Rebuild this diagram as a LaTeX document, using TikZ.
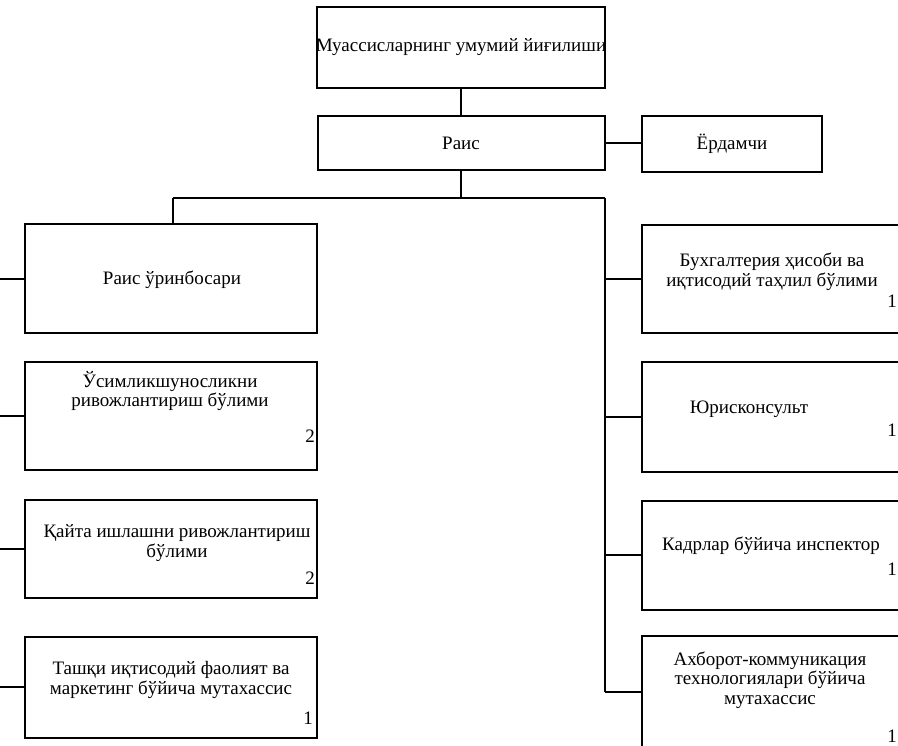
\documentclass[tikz,border=0pt]{standalone}
\usepackage{fontspec}
\setmainfont{Liberation Serif}
\usepackage{tikz}
\usetikzlibrary{calc}
\tikzset{
  box/.style={draw=black, line width=2pt, inner sep=0pt},
  line/.style={draw=black, line width=1.8pt},
  lab/.style={font=\fontsize{19}{19.5}\selectfont, align=center, inner sep=0pt},
  num/.style={font=\fontsize{19}{19}\selectfont, inner sep=0pt, anchor=east},
}

\begin{document}
\begin{tikzpicture}[x=1pt,y=-1pt]
  \clip (0,0) rectangle (898,746);
  \fill[white] (0,0) rectangle (898,746);
  % top of the chart
  \node[box, minimum width=288pt, minimum height=81pt] (meet) at (461,47.5) {};
  \node[lab] (meett) at (461,47) {Муассисларнинг умумий йиғилиши};
  \node[box, minimum width=287pt, minimum height=54pt] (rais) at (461,143) {};
  \node[lab] (raist) at (461,143) {Раис};
  \node[box, minimum width=180pt, minimum height=56pt] (help) at (732,144) {};
  \node[lab] (helpt) at (732,144) {Ёрдамчи};
  % left column
  \node[box, minimum width=292pt, minimum height=109pt] (l1) at (171,279) {};
  \node[lab] (l1t) at (172,280) {Раис ўринбосари};
  \node[box, minimum width=292pt, minimum height=108pt] (l2) at (171,416) {};
  \node[lab] (l2t) at (170,391) {Ўсимликшуносликни\\ривожлантириш бўлими};
  \node[num] (l2n) at (315,436) {2};
  \node[box, minimum width=292pt, minimum height=98pt] (l3) at (171,549) {};
  \node[lab] (l3t) at (177,543) {Қайта ишлашни ривожлантириш\\бўлими};
  \node[num] (l3n) at (315,578) {2};
  \node[box, minimum width=292pt, minimum height=101pt] (l4) at (171,687) {};
  \node[lab] (l4t) at (171,680) {Ташқи иқтисодий фаолият ва\\маркетинг бўйича мутахассис};
  \node[num] (l4n) at (313,718) {1};
  % right column
  \node[box, minimum width=258pt, minimum height=108pt] (r1) at (771,279) {};
  \node[lab] (r1t) at (772,272) {Бухгалтерия ҳисоби ва\\иқтисодий таҳлил бўлими};
  \node[num] (r1n) at (897,301) {1};
  \node[box, minimum width=258pt, minimum height=110pt] (r2) at (771,417) {};
  \node[lab] (r2t) at (749,409) {Юрисконсульт};
  \node[num] (r2n) at (897,430) {1};
  \node[box, minimum width=258pt, minimum height=109pt] (r3) at (771,555) {};
  \node[lab] (r3t) at (771,546) {Кадрлар бўйича инспектор};
  \node[num] (r3n) at (897,569) {1};
  \node[box, minimum width=258pt, minimum height=112pt] (r4) at (771,692) {};
  \node[lab] (r4t) at (770,680) {Ахборот-коммуникация\\технологиялари бўйича\\мутахассис};
  \node[num] (r4n) at (897,736) {1};
  % connectors
  \coordinate (split) at (461,198);
  \coordinate (lturn) at (173,198);
  \coordinate (rturn) at (605,198);
  \coordinate (lft) at (0,0);
  \draw[line] (meet.south) -- (rais.north);
  \draw[line] (rais.east) -- (rais.east -| help.west);
  \draw[line] (rais.south) -- (split);
  \draw[line] (lturn) -- (rturn);
  \draw[line] (lturn) -- (lturn |- l1.north);
  \draw[line] (rturn) -- (rturn |- r4.west);
  \draw[line] (rturn |- r1.west) -- (r1.west);
  \draw[line] (rturn |- r2.west) -- (r2.west);
  \draw[line] (rturn |- r3.west) -- (r3.west);
  \draw[line] (rturn |- r4.west) -- (r4.west);
  \draw[line] (l1.west) -- (l1.west -| lft);
  \draw[line] (l2.west) -- (l2.west -| lft);
  \draw[line] (l3.west) -- (l3.west -| lft);
  \draw[line] (l4.west) -- (l4.west -| lft);
\end{tikzpicture}
\end{document}
